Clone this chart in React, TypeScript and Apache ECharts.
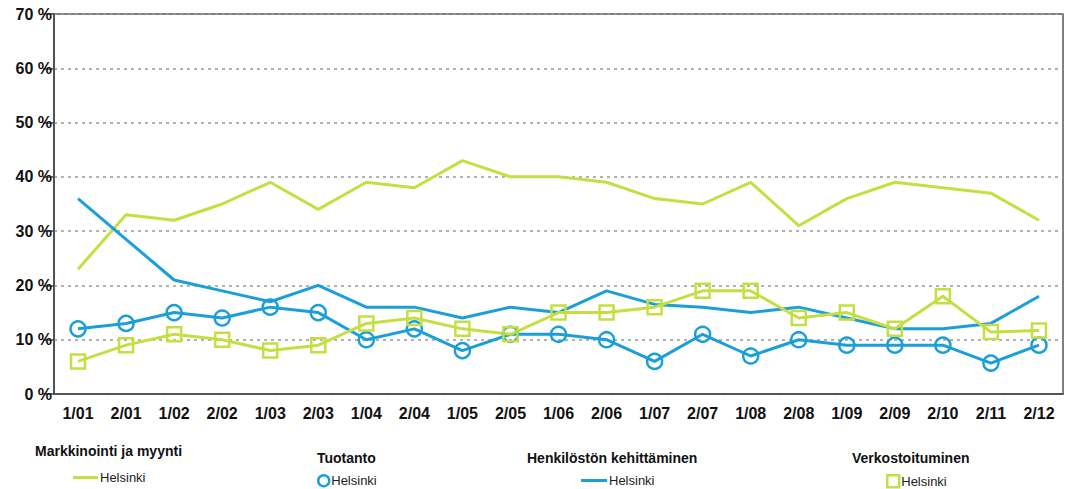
import React, { useEffect, useRef } from "react";
import * as echarts from "echarts";

const categories = ["1/01","2/01","1/02","2/02","1/03","2/03","1/04","2/04","1/05","2/05","1/06","2/06","1/07","2/07","1/08","2/08","1/09","2/09","2/10","2/11","2/12"];
const markkinointi = [23, 33, 32, 35, 39, 34, 39, 38, 43, 40, 40, 39, 36, 35, 39, 31, 36, 39, 38, 37, 32];
const tuotanto = [12, 13, 15, 14, 16, 15, 10, 12, 8, 11, 11, 10, 6, 11, 7, 10, 9, 9, 9, 5.7, 9];
const henkilosto = [36, 28.5, 21, 19, 17, 20, 16, 16, 14, 16, 15, 19, 16.5, 16, 15, 16, 14, 12, 12, 13, 18];
const verkosto = [6, 9, 11, 10, 8, 9, 13, 14, 12, 11, 15, 15, 16, 19, 19, 14, 15, 12, 18, 11.4, 11.7];
const groupTitles = ["Markkinointi ja myynti", "Tuotanto", "Henkilöstön kehittäminen", "Verkostoituminen"];
const seriesLabel = "Helsinki";

const GREEN = "#c5df43";
const BLUE = "#1b9fd8";
const FONT = "Liberation Sans, Arial, sans-serif";

export default function App() {
  const ref = useRef<HTMLDivElement>(null);
  useEffect(() => {
    const chart = echarts.init(ref.current!, null, { renderer: "svg" });
    const legendBase = {
      orient: "horizontal",
      padding: 0,
      itemGap: 0,
      selectedMode: false,
      formatter: () => seriesLabel,
      textStyle: { fontFamily: FONT, fontSize: 13, lineHeight: 13, color: "#222", padding: [0, 0, 0, -3] },
    };
    chart.setOption({
      animation: false,
      textStyle: { fontFamily: FONT },
      title: [
        { text: groupTitles[0], left: 35, top: 444 },
        { text: groupTitles[1], left: 317, top: 451 },
        { text: groupTitles[2], left: 527, top: 451 },
        { text: groupTitles[3], left: 852, top: 451 },
      ].map((t) => ({
        ...t,
        padding: 0,
        textStyle: { fontFamily: FONT, fontSize: 14, fontWeight: "bold", color: "#111" },
      })),
      legend: [
        { ...legendBase, data: [groupTitles[0]], left: 73, top: 471, icon: "rect", itemWidth: 25, itemHeight: 3 },
        { ...legendBase, data: [groupTitles[1]], left: 317, top: 474, icon: "circle", itemWidth: 11, itemHeight: 11,
          itemStyle: { color: "#fff", borderColor: BLUE, borderWidth: 2.5 } },
        { ...legendBase, data: [groupTitles[2]], left: 581, top: 474, icon: "rect", itemWidth: 26, itemHeight: 3 },
        { ...legendBase, data: [groupTitles[3]], left: 886, top: 474, icon: "rect", itemWidth: 12, itemHeight: 12,
          itemStyle: { color: "#fff", borderColor: GREEN, borderWidth: 2.5 } },
      ],
      grid: {
        left: 54, right: 4, top: 14, height: 380,
        show: true, borderColor: "#555", borderWidth: 1.5, backgroundColor: "transparent",
        containLabel: false,
      },
      xAxis: {
        type: "category",
        data: categories,
        boundaryGap: true,
        axisLine: { lineStyle: { color: "#444", width: 1.5 } },
        axisTick: { alignWithLabel: true, length: 9, lineStyle: { color: "#444", width: 1.5 } },
        axisLabel: { color: "#111", fontSize: 16, fontWeight: "bold", fontFamily: FONT, margin: 11, interval: 0 },
        splitLine: { show: false },
      },
      yAxis: {
        type: "value",
        min: 0, max: 70, interval: 10,
        axisLine: { show: true, lineStyle: { color: "#444", width: 1.5 } },
        axisTick: { show: true, length: 11, lineStyle: { color: "#444", width: 1.5 } },
        axisLabel: { color: "#111", fontSize: 16, fontWeight: "bold", fontFamily: FONT, margin: 2, formatter: "{value} %" },
        splitLine: { show: true, lineStyle: { color: "#999", type: [3, 4], width: 1.5 } },
      },
      series: [
        { name: groupTitles[0], type: "line", data: markkinointi, showSymbol: false, symbol: "none",
          lineStyle: { color: GREEN, width: 3 }, itemStyle: { color: GREEN } },
        { name: groupTitles[1], type: "line", data: tuotanto, symbol: "circle", symbolSize: 15,
          lineStyle: { color: BLUE, width: 3 },
          itemStyle: { color: "transparent", borderColor: BLUE, borderWidth: 2.5 } },
        { name: groupTitles[2], type: "line", data: henkilosto, symbol: "none",
          lineStyle: { color: BLUE, width: 3 }, itemStyle: { color: BLUE } },
        { name: groupTitles[3], type: "line", data: verkosto, symbol: "rect", symbolSize: 14,
          lineStyle: { color: GREEN, width: 3 },
          itemStyle: { color: "transparent", borderColor: GREEN, borderWidth: 2.5 } },
      ],
    });
    return () => chart.dispose();
  }, []);
  return (
    <div
      ref={ref}
      style={{ position: "fixed", left: 0, top: 0, width: 1067, height: 489, background: "#fff" }}
    />
  );
}
